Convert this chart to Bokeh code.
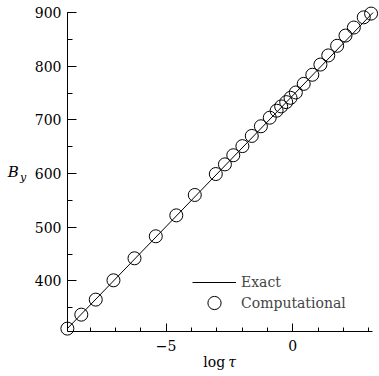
from bokeh.plotting import figure
from bokeh.models import FixedTicker, Legend, LegendItem, Range1d
from bokeh.core.properties import value
from bokeh.embed import file_html
from bokeh.resources import INLINE

# ---- data ----
log_tau = [-8.90, -8.35, -7.78, -7.08, -6.25, -5.41, -4.60, -3.87, -3.04, -2.68,
           -2.35, -1.99, -1.62, -1.26, -0.91, -0.64, -0.46, -0.26, -0.09, 0.12,
           0.43, 0.77, 1.09, 1.40, 1.75, 2.08, 2.41, 2.80, 3.09]
b_y = [311, 337, 365, 401, 442, 483, 522, 560, 599, 617,
       634, 651, 670, 688, 704, 717, 725, 733, 741, 751,
       767, 784, 803, 820, 838, 857, 872, 891, 898]
exact_x = [-8.90, 3.17]
exact_y = [311, 900]

x_major = [-5, 0]
x_minor = [-8, -7, -6, -5, -4, -3, -2, -1, 0, 1, 2, 3]
x_labels = {-5: "\u22125", 0: "0"}
y_major = [400, 500, 600, 700, 800, 900]
y_minor = [350, 400, 450, 500, 550, 600, 650, 700, 750, 800, 850, 900]

FONT = "DejaVu Serif"

p = figure(width=379, height=376, output_backend="svg", toolbar_location=None,
           x_range=Range1d(-8.895, 3.146), y_range=Range1d(305.6, 900.0),
           min_border_left=67, min_border_right=7, min_border_top=12,
           min_border_bottom=45)
p.outline_line_color = None
p.grid.visible = False
p.background_fill_color = "white"
p.border_fill_color = "white"

line_r = p.line(exact_x, exact_y, line_color="black", line_width=1,
                level="overlay")
circ_r = p.scatter(log_tau, b_y, marker="circle", size=13, fill_color=None,
                   line_color="black", line_width=1, level="overlay")

for ax in (p.xaxis[0], p.yaxis[0]):
    ax.axis_line_color = "black"
    ax.axis_line_width = 1
    ax.major_tick_line_color = "black"
    ax.minor_tick_line_color = "black"
    ax.major_tick_out = 0
    ax.minor_tick_out = 0
    ax.major_label_text_font = FONT
    ax.major_label_text_font_size = "14px"
    ax.major_label_text_color = "black"

xa = p.xaxis[0]
xa.ticker = FixedTicker(ticks=x_major, minor_ticks=x_minor)
xa.major_label_overrides = x_labels
xa.major_tick_in = 8
xa.minor_tick_in = 4
xa.major_label_standoff = 8

ya = p.yaxis[0]
ya.ticker = FixedTicker(ticks=y_major, minor_ticks=y_minor)
ya.major_tick_in = 9
ya.minor_tick_in = 5
ya.major_label_standoff = 6

# axis titles as unclipped text glyphs
def lab(x, y, text, size, italic=False):
    p.text(x=[x], y=[y], text=[text], text_font=value(FONT),
           text_font_size=value(size),
           text_font_style="italic" if italic else "normal",
           text_baseline="middle", text_align="left", text_color="black",
           level="overlay")

lab(-11.25, 601.9, "B", "15px", italic=True)
lab(-10.77, 592.5, "y", "11px", italic=True)
lab(-3.537, 249.7, "log", "14px")
lab(-2.55, 249.7, "\u03c4", "14px", italic=True)

common = dict(padding=0, margin=0, spacing=0, glyph_width=44,
              label_standoff=5, label_text_font=FONT,
              label_text_font_size="14px", border_line_color=None,
              background_fill_alpha=0)
leg1 = Legend(items=[LegendItem(label="Exact", renderers=[line_r])],
              location=(125, 40), glyph_height=18, label_height=18, **common)
leg2 = Legend(items=[LegendItem(label="Computational", renderers=[circ_r])],
              location=(125, 12), glyph_height=33, label_height=33, **common)
p.add_layout(leg1, "center")
p.add_layout(leg2, "center")

open("out.html", "w").write(file_html(p, INLINE))
